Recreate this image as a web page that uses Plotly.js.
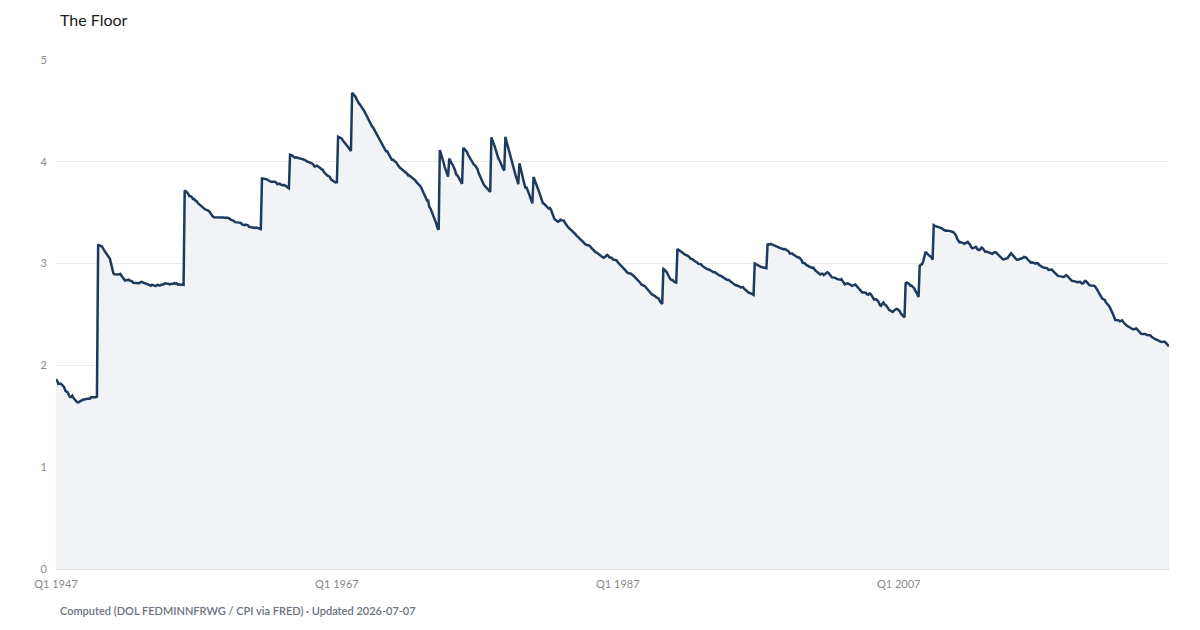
<!DOCTYPE html>
<html>
<head>
<meta charset="utf-8">
<script src="https://cdn.plot.ly/plotly-3.0.1.min.js"></script>
<style>html,body{margin:0;padding:0;background:#fff;}#chart{width:1200px;height:630px;}</style>
</head>
<body>
<div id="chart"></div>
<script>
// Monthly series, Jan 1947 .. Apr 2026 (real federal minimum wage, 1982-84 dollars)
const startYear = 1947;
const realMinWage = [
// 1947
1.862,1.850,1.818,1.818,1.822,1.812,1.799,1.786,1.751,1.746,1.735,1.709,
// 1948
1.689,1.690,1.702,1.679,1.666,1.656,1.639,1.637,1.642,1.645,1.656,1.663,
// 1949
1.666,1.673,1.673,1.672,1.673,1.672,1.688,1.688,1.684,1.690,1.688,1.694,
// 1950
3.190,3.177,3.173,3.171,3.155,3.141,3.116,3.099,3.081,3.061,3.049,3.002,
// 1951
2.955,2.904,2.895,2.894,2.886,2.892,2.895,2.900,2.881,2.867,2.850,2.833,
// 1952
2.836,2.840,2.842,2.834,2.833,2.827,2.811,2.810,2.816,2.810,2.810,2.808,
// 1953
2.815,2.821,2.816,2.810,2.809,2.802,2.800,2.793,2.789,2.783,2.793,2.791,
// 1954
2.784,2.779,2.785,2.792,2.785,2.784,2.792,2.793,2.797,2.807,2.801,2.802,
// 1955
2.802,2.796,2.800,2.800,2.802,2.808,2.803,2.807,2.793,2.796,2.790,2.791,
// 1956
2.795,2.792,3.719,3.713,3.700,3.683,3.664,3.662,3.656,3.635,3.635,3.619,
// 1957
3.614,3.597,3.589,3.580,3.571,3.557,3.547,3.536,3.531,3.531,3.520,3.512,
// 1958
3.492,3.484,3.464,3.455,3.455,3.459,3.461,3.455,3.459,3.459,3.454,3.452,
// 1959
3.447,3.448,3.452,3.451,3.444,3.435,3.431,3.427,3.419,3.407,3.407,3.400,
// 1960
3.405,3.400,3.400,3.385,3.382,3.377,3.384,3.377,3.377,3.361,3.358,3.355,
// 1961
3.351,3.351,3.351,3.355,3.351,3.351,3.342,3.340,3.836,3.836,3.836,3.832,
// 1962
3.828,3.819,3.812,3.807,3.803,3.807,3.805,3.805,3.798,3.780,3.785,3.785,
// 1963
3.778,3.773,3.769,3.773,3.769,3.757,3.747,3.740,4.069,4.065,4.061,4.048,
// 1964
4.040,4.044,4.040,4.039,4.035,4.031,4.030,4.026,4.022,4.017,4.005,4.000,
// 1965
3.996,3.992,3.990,3.983,3.971,3.954,3.958,3.962,3.953,3.949,3.937,3.925,
// 1966
3.921,3.897,3.884,3.872,3.864,3.860,3.852,3.828,3.817,3.805,3.802,3.797,
// 1967
3.799,4.246,4.242,4.232,4.230,4.211,4.192,4.179,4.167,4.154,4.136,4.130,
// 1968
4.106,4.678,4.665,4.651,4.638,4.611,4.585,4.571,4.558,4.533,4.520,4.507,
// 1969
4.482,4.469,4.432,4.408,4.396,4.372,4.348,4.336,4.313,4.290,4.267,4.244,
// 1970
4.222,4.199,4.178,4.156,4.145,4.124,4.103,4.103,4.082,4.061,4.040,4.020,
// 1971
4.020,4.010,4.000,3.990,3.970,3.951,3.941,3.931,3.922,3.912,3.902,3.893,
// 1972
3.883,3.865,3.865,3.855,3.846,3.837,3.828,3.819,3.800,3.791,3.774,3.765,
// 1973
3.747,3.721,3.687,3.661,3.645,3.620,3.620,3.556,3.540,3.509,3.486,3.463,
// 1974
3.433,3.390,3.347,3.333,4.115,4.082,4.049,4.000,3.953,3.914,3.883,3.854,
// 1975
4.031,4.000,3.985,3.970,3.947,3.918,3.875,3.867,3.846,3.825,3.797,3.784,
// 1976
4.137,4.122,4.114,4.100,4.071,4.049,4.028,4.007,3.993,3.972,3.966,3.952,
// 1977
3.932,3.892,3.866,3.833,3.814,3.789,3.770,3.758,3.746,3.734,3.716,3.704,
// 1978
4.240,4.213,4.180,4.147,4.109,4.064,4.033,4.015,3.985,3.949,3.932,3.914,
// 1979
4.246,4.197,4.155,4.108,4.056,4.011,3.967,3.930,3.887,3.856,3.821,3.781,
// 1980
3.985,3.929,3.870,3.827,3.790,3.748,3.748,3.721,3.690,3.656,3.626,3.592,
// 1981
3.851,3.811,3.785,3.760,3.731,3.698,3.657,3.629,3.594,3.587,3.575,3.564,
// 1982
3.552,3.541,3.545,3.530,3.497,3.454,3.436,3.429,3.422,3.411,3.418,3.432,
// 1983
3.425,3.422,3.422,3.398,3.377,3.367,3.353,3.343,3.327,3.317,3.310,3.307,
// 1984
3.288,3.271,3.265,3.249,3.240,3.230,3.218,3.206,3.190,3.181,3.181,3.181,
// 1985
3.175,3.160,3.148,3.134,3.122,3.113,3.108,3.102,3.093,3.082,3.073,3.065,
// 1986
3.057,3.065,3.079,3.085,3.076,3.059,3.059,3.054,3.040,3.037,3.034,3.032,
// 1987
3.013,3.002,2.988,2.972,2.962,2.952,2.944,2.928,2.913,2.905,2.903,2.903,
// 1988
2.895,2.888,2.876,2.861,2.851,2.839,2.827,2.815,2.796,2.787,2.785,2.780,
// 1989
2.766,2.755,2.739,2.721,2.706,2.699,2.693,2.689,2.680,2.667,2.661,2.657,
// 1990
2.630,2.617,2.603,2.948,2.941,2.925,2.914,2.888,2.864,2.846,2.840,2.840,
// 1991
2.823,2.819,2.815,3.143,3.134,3.125,3.120,3.111,3.098,3.093,3.084,3.082,
// 1992
3.077,3.066,3.051,3.047,3.042,3.031,3.025,3.016,3.008,2.997,2.993,2.995,
// 1993
2.980,2.970,2.960,2.951,2.947,2.943,2.943,2.935,2.929,2.917,2.915,2.915,
// 1994
2.907,2.897,2.887,2.883,2.881,2.872,2.864,2.852,2.845,2.843,2.839,2.839,
// 1995
2.828,2.816,2.807,2.798,2.792,2.787,2.787,2.780,2.774,2.765,2.767,2.769,
// 1996
2.753,2.744,2.730,2.719,2.714,2.712,2.707,2.702,2.693,3.001,2.995,2.995,
// 1997
2.986,2.976,2.969,2.965,2.967,2.963,2.960,2.954,3.195,3.187,3.189,3.193,
// 1998
3.187,3.181,3.175,3.169,3.163,3.160,3.156,3.152,3.148,3.140,3.140,3.142,
// 1999
3.134,3.131,3.121,3.099,3.099,3.099,3.089,3.082,3.067,3.062,3.060,3.060,
// 2000
3.051,3.033,3.008,3.006,3.003,2.987,2.980,2.980,2.965,2.960,2.958,2.960,
// 2001
2.941,2.929,2.923,2.911,2.898,2.893,2.901,2.901,2.888,2.898,2.903,2.915,
// 2002
2.908,2.897,2.880,2.864,2.864,2.863,2.860,2.850,2.845,2.841,2.841,2.847,
// 2003
2.834,2.813,2.796,2.802,2.807,2.803,2.800,2.790,2.781,2.784,2.791,2.794,
// 2004
2.781,2.766,2.748,2.739,2.723,2.715,2.719,2.718,2.712,2.698,2.696,2.706,
// 2005
2.701,2.685,2.664,2.646,2.649,2.648,2.636,2.622,2.591,2.585,2.606,2.617,
// 2006
2.597,2.592,2.578,2.556,2.543,2.538,2.531,2.526,2.538,2.552,2.556,2.552,
// 2007
2.544,2.531,2.508,2.492,2.477,2.472,2.808,2.814,2.806,2.800,2.783,2.785,
// 2008
2.771,2.763,2.740,2.723,2.700,2.673,2.978,2.990,2.994,3.024,3.083,3.116,
// 2009
3.102,3.087,3.079,3.072,3.063,3.037,3.377,3.370,3.367,3.362,3.358,3.360,
// 2010
3.350,3.347,3.335,3.328,3.324,3.326,3.326,3.321,3.319,3.315,3.313,3.308,
// 2011
3.292,3.276,3.244,3.223,3.209,3.212,3.209,3.200,3.195,3.202,3.205,3.213,
// 2012
3.198,3.185,3.161,3.151,3.155,3.159,3.165,3.147,3.133,3.134,3.149,3.158,
// 2013
3.148,3.123,3.115,3.118,3.112,3.105,3.104,3.100,3.096,3.104,3.111,3.111,
// 2014
3.099,3.088,3.068,3.058,3.047,3.042,3.043,3.048,3.046,3.054,3.070,3.088,
// 2015
3.102,3.089,3.070,3.064,3.049,3.038,3.038,3.042,3.047,3.048,3.055,3.065,
// 2016
3.060,3.058,3.045,3.030,3.018,3.008,3.013,3.010,3.003,2.999,3.004,3.003,
// 2017
2.986,2.976,2.974,2.965,2.962,2.960,2.962,2.953,2.937,2.939,2.939,2.941,
// 2018
2.925,2.912,2.905,2.894,2.882,2.877,2.877,2.875,2.872,2.867,2.877,2.886,
// 2019
2.880,2.868,2.852,2.837,2.831,2.830,2.826,2.826,2.824,2.817,2.819,2.821,
// 2020
2.810,2.803,2.809,2.828,2.828,2.812,2.798,2.789,2.785,2.784,2.786,2.783,
// 2021
2.772,2.757,2.737,2.715,2.693,2.668,2.656,2.650,2.643,2.621,2.608,2.600,
// 2022
2.579,2.555,2.522,2.508,2.480,2.447,2.447,2.448,2.443,2.433,2.435,2.443,
// 2023
2.423,2.410,2.402,2.390,2.384,2.376,2.372,2.361,2.355,2.356,2.361,2.363,
// 2024
2.351,2.336,2.321,2.312,2.308,2.308,2.312,2.308,2.299,2.297,2.298,2.297,
// 2025
2.282,2.272,2.267,2.260,2.255,2.248,2.244,2.238,2.232,2.231,2.234,2.234,
// 2026
2.225,2.214,2.200,2.187
];

const xTickVals = ['1947-01-01','1967-01-01','1987-01-01','2007-01-01'];
const xTickText = ['Q1 1947','Q1 1967','Q1 1987','Q1 2007'];
const yTickVals = [0,1,2,3,4,5];

const dates = realMinWage.map((v, i) => {
  const y = startYear + Math.floor(i / 12);
  const m = (i % 12) + 1;
  return y + '-' + String(m).padStart(2, '0') + '-01';
});

const trace = {
  type: 'scatter',
  mode: 'lines',
  x: dates,
  y: realMinWage,
  fill: 'tozeroy',
  fillcolor: '#f1f3f6',
  line: {color: '#1f3a5f', width: 2.5},
  hoverinfo: 'skip'
};

const layout = {
  width: 1200,
  height: 630,
  margin: {l: 56, r: 31, t: 60, b: 61},
  paper_bgcolor: '#ffffff',
  plot_bgcolor: '#ffffff',
  font: {family: 'Lato, "Open Sans", sans-serif', color: '#888888', size: 11},
  showlegend: false,
  title: {
    text: 'The Floor',
    font: {family: 'Lato, sans-serif', size: 16, color: '#1a1a1a'},
    xref: 'container', x: 0.05, xanchor: 'left',
    yref: 'container', y: 1 - 20/630, yanchor: 'middle'
  },
  xaxis: {
    type: 'date',
    tickvals: xTickVals,
    ticktext: xTickText,
    showgrid: false,
    zeroline: false,
    showline: true,
    linecolor: '#dcdcdc',
    linewidth: 1,
    ticks: '',
    ticklabelstandoff: 5,
    tickfont: {size: 11, color: '#8a8a8a'}
  },
  yaxis: {
    range: [0, 5],
    tickvals: yTickVals,
    showgrid: true,
    gridcolor: '#ebebeb',
    zeroline: false,
    showline: false,
    ticks: '',
    ticklabelstandoff: 8,
    tickfont: {size: 11, color: '#8a8a8a'}
  },
  annotations: [{
    text: 'Computed (DOL FEDMINNFRWG / CPI via FRED) · Updated 2026-07-07',
    xref: 'paper', yref: 'paper',
    x: 2/1113, y: (569 - 610)/509,
    xanchor: 'left', yanchor: 'middle',
    showarrow: false,
    font: {family: 'Lato, sans-serif', size: 11, color: '#6b7280', weight: 600}
  }]
};

Plotly.newPlot('chart', [trace], layout, {displayModeBar: false, staticPlot: true});
</script>
</body>
</html>
